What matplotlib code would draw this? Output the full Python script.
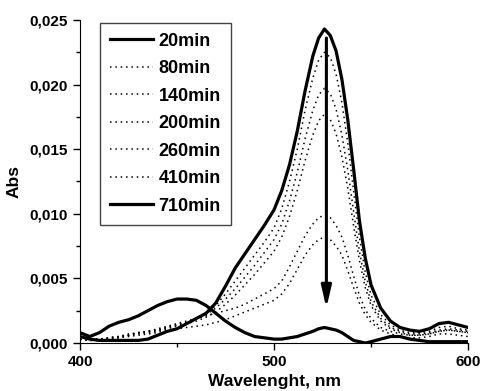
import matplotlib
matplotlib.use("Agg")
import matplotlib.pyplot as plt
from matplotlib.ticker import MultipleLocator, FuncFormatter

plt.rcParams['font.family'] = ['Liberation Sans', 'DejaVu Sans']
plt.rcParams['font.weight'] = 'bold'

# wavelength grid, nm
wavelength = [400, 405, 410, 415, 420, 425, 430, 435, 440, 445, 450, 455, 460, 465, 470,
              475, 480, 485, 490, 495, 500, 504, 508, 512, 516, 520, 523, 526, 529, 532,
              535, 538, 541, 544, 547, 550, 555, 560, 565, 570, 575, 580, 585, 590, 595, 600]

abs_20 = [0.0005, 0.0003, 0.0002, 0.0002, 0.0002, 0.0002, 0.0002, 0.0003, 0.0006, 0.0009,
          0.0011, 0.0015, 0.0019, 0.0023, 0.0031, 0.0044, 0.0058, 0.0069, 0.0080, 0.0091,
          0.0103, 0.0118, 0.0138, 0.0164, 0.0195, 0.0222, 0.0236, 0.0243, 0.0238, 0.0226,
          0.0204, 0.0173, 0.0135, 0.0095, 0.0066, 0.0045, 0.0027, 0.0017, 0.0012, 0.0010,
          0.0009, 0.0011, 0.0015, 0.0016, 0.0014, 0.0012]
abs_80 = [0.0004, 0.0003, 0.0003, 0.0004, 0.0005, 0.0007, 0.0008, 0.0009, 0.0010, 0.0012,
          0.0014, 0.0016, 0.0019, 0.0023, 0.0029, 0.0038, 0.0048, 0.0058, 0.0068, 0.0078,
          0.0089, 0.0104, 0.0125, 0.0150, 0.0180, 0.0205, 0.0219, 0.0225, 0.0221, 0.0208,
          0.0186, 0.0155, 0.0118, 0.0082, 0.0055, 0.0037, 0.0022, 0.0014, 0.0010, 0.0008,
          0.0008, 0.0009, 0.0012, 0.0013, 0.0011, 0.0010]
abs_140 = [0.0003, 0.0002, 0.0003, 0.0004, 0.0005, 0.0006, 0.0008, 0.0009, 0.0010, 0.0012,
           0.0014, 0.0016, 0.0019, 0.0022, 0.0027, 0.0034, 0.0042, 0.0051, 0.0060, 0.0070,
           0.0080, 0.0092, 0.0110, 0.0132, 0.0158, 0.0180, 0.0192, 0.0197, 0.0193, 0.0181,
           0.0161, 0.0134, 0.0102, 0.0071, 0.0048, 0.0032, 0.0019, 0.0012, 0.0009, 0.0007,
           0.0007, 0.0008, 0.0010, 0.0011, 0.0010, 0.0009]
abs_200 = [0.0003, 0.0002, 0.0002, 0.0003, 0.0004, 0.0006, 0.0007, 0.0008, 0.0009, 0.0011,
           0.0013, 0.0015, 0.0017, 0.0020, 0.0024, 0.0030, 0.0037, 0.0045, 0.0053, 0.0062,
           0.0071, 0.0082, 0.0098, 0.0118, 0.0141, 0.0161, 0.0172, 0.0177, 0.0173, 0.0162,
           0.0144, 0.0120, 0.0091, 0.0064, 0.0043, 0.0029, 0.0017, 0.0011, 0.0008, 0.0006,
           0.0006, 0.0007, 0.0009, 0.0010, 0.0009, 0.0008]
abs_260 = [0.0004, 0.0003, 0.0003, 0.0004, 0.0005, 0.0006, 0.0008, 0.0009, 0.0011, 0.0013,
           0.0015, 0.0017, 0.0019, 0.0021, 0.0023, 0.0025, 0.0027, 0.0030, 0.0034, 0.0038,
           0.0042, 0.0048, 0.0059, 0.0071, 0.0083, 0.0092, 0.0097, 0.0099, 0.0097, 0.0091,
           0.0082, 0.0068, 0.0052, 0.0037, 0.0026, 0.0019, 0.0012, 0.0009, 0.0007, 0.0006,
           0.0006, 0.0007, 0.0009, 0.0010, 0.0009, 0.0008]
abs_410 = [0.0003, 0.0002, 0.0002, 0.0003, 0.0004, 0.0005, 0.0006, 0.0007, 0.0008, 0.0010,
           0.0011, 0.0012, 0.0013, 0.0014, 0.0016, 0.0018, 0.0021, 0.0024, 0.0027, 0.0030,
           0.0033, 0.0038, 0.0046, 0.0057, 0.0068, 0.0076, 0.0080, 0.0082, 0.0080, 0.0075,
           0.0068, 0.0056, 0.0043, 0.0031, 0.0022, 0.0016, 0.0010, 0.0007, 0.0005, 0.0004,
           0.0004, 0.0005, 0.0007, 0.0007, 0.0006, 0.0005]
abs_710 = [0.0008, 0.0005, 0.0008, 0.0013, 0.0016, 0.0018, 0.0021, 0.0025, 0.0029, 0.0032,
           0.0034, 0.0034, 0.0033, 0.0029, 0.0023, 0.0017, 0.0012, 0.0008, 0.0005, 0.0004,
           0.0003, 0.0003, 0.0004, 0.0005, 0.0007, 0.0009, 0.0011, 0.0012, 0.0011, 0.0010,
           0.0008, 0.0005, 0.0002, 0.0001, 0.0000, 0.0001, 0.0003, 0.0005, 0.0005, 0.0003,
           0.0002, 0.0001, 0.0001, 0.0001, 0.0001, 0.0001]

labels = ['20min', '80min', '140min', '200min', '260min', '410min', '710min']
series = [abs_20, abs_80, abs_140, abs_200, abs_260, abs_410, abs_710]

# arrow from top of the band to the bottom
arrow_x = 527
arrow_from = 0.0236
arrow_to = 0.0027

fig = plt.figure(figsize=(4.8, 3.91), dpi=100)
ax = fig.add_axes([0.1667, 0.1228, 0.8083, 0.8262])

for lab, ys in zip(labels, series):
    if lab in ('20min', '710min'):
        ax.plot(wavelength, ys, color='black', lw=2.3, label=lab)
    else:
        ax.plot(wavelength, ys, color='black', lw=1.1, linestyle=(0, (1, 2.5)), label=lab)

ax.annotate('', xy=(arrow_x, arrow_to), xytext=(arrow_x, arrow_from),
            arrowprops=dict(arrowstyle='-|>,head_length=1.3,head_width=0.3',
                            color='black', lw=2.2, shrinkA=0, shrinkB=0))

ax.set_xlim(400, 600)
ax.set_ylim(0, 0.025)
ax.spines['top'].set_visible(False)
ax.spines['right'].set_visible(False)
ax.xaxis.set_major_locator(MultipleLocator(100))
ax.xaxis.set_minor_locator(MultipleLocator(50))
ax.yaxis.set_major_locator(MultipleLocator(0.005))
ax.yaxis.set_minor_locator(MultipleLocator(0.0025))
ax.yaxis.set_major_formatter(FuncFormatter(lambda v, p: f'{v:.3f}'.replace('.', ',')))
ax.tick_params(which='major', direction='out', length=5, width=1, labelsize=11)
ax.tick_params(which='minor', direction='out', length=3, width=1)

ax.set_xlabel('Wavelenght, nm', fontsize=12.5, fontweight='bold', labelpad=4)
ax.set_ylabel('Abs', fontsize=12.5, fontweight='bold', labelpad=6)

leg = ax.legend(loc='upper left', bbox_to_anchor=(0.028, 1.019), fontsize=13,
                handlelength=2.4, labelspacing=0.58, handletextpad=0.3,
                borderpad=0.55, fancybox=False, framealpha=1)
leg.get_frame().set_edgecolor('#444444')
leg.get_frame().set_linewidth(1.0)

fig.savefig('out.png', dpi=100)
